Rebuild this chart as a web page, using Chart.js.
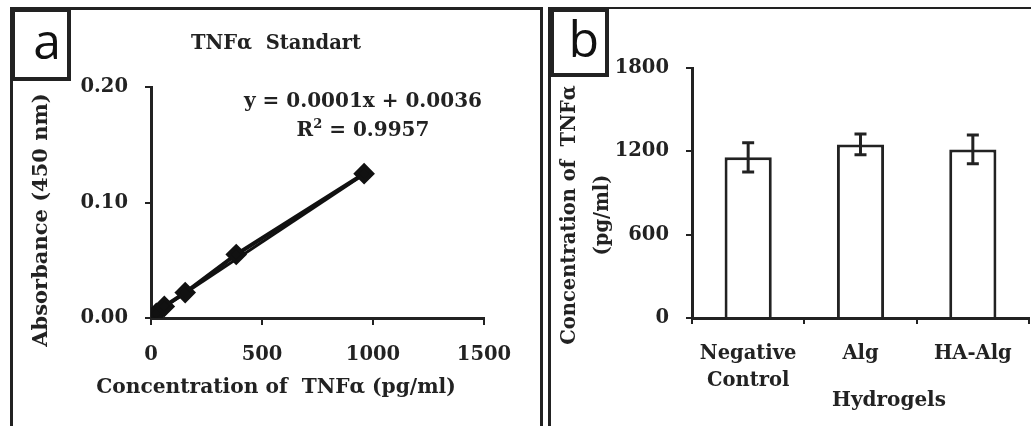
<!DOCTYPE html>
<html>
<head>
<meta charset="utf-8">
<script src="https://cdn.jsdelivr.net/npm/chart.js@4/dist/chart.umd.min.js"></script>
<style>
body { margin: 0; background: #fff; width: 1031px; height: 426px; overflow: hidden; position: relative; }
canvas { position: absolute; top: 0; }
.lbl { position: absolute; font-family: "DejaVu Serif", serif; font-weight: bold; font-size: 20px; color: #222; white-space: nowrap; transform: translate(-50%, -50%); }
.rot { transform: translate(-50%, -50%) rotate(-90deg); }
.frame { position: absolute; border: 3px solid #222; border-bottom: none; }
.tag { position: absolute; border: 4px solid #222; background: #fff; font-family: "Open Sans", sans-serif; font-size: 50px; color: #111; box-sizing: border-box; }
</style>
</head>
<body>
<div class="frame" style="left:10px;top:7px;width:527px;height:440px"></div>
<div class="frame" style="left:548px;top:7px;width:500px;height:440px;border-top-width:2px"></div>
<canvas id="stdChart" width="545" height="426" style="left:0"></canvas>
<canvas id="gelChart" width="482" height="426" style="left:549px"></canvas>
<div class="tag" style="left:11px;top:8px;width:60px;height:73px"><span style="position:absolute;right:6px;top:-6px">a</span></div>
<div class="tag" style="left:550px;top:8px;width:59px;height:69px"><span style="position:absolute;right:6px;top:-8px">b</span></div>

<div class="lbl" style="left:276px;top:42px;font-size:19.5px">TNFα&nbsp; Standart</div>
<div class="lbl" style="left:363px;top:100px">y = 0.0001x + 0.0036</div>
<div class="lbl" style="left:363px;top:128px">R<sup style="font-size:13px;vertical-align:8px">2</sup> = 0.9957</div>
<div class="lbl rot" style="left:39px;top:220px;font-size:21px">Absorbance (450 nm)</div>
<div class="lbl" style="left:276px;top:386px;font-size:20.2px">Concentration of&nbsp; TNFα (pg/ml)</div>

<div class="lbl rot" style="left:585px;top:215px;text-align:center;line-height:33px;font-size:19.5px">Concentration of&nbsp; TNFα<br>(pg/ml)</div>
<div class="lbl" style="left:889px;top:399px">Hydrogels</div>

<script>
// panel a: TNFα standard curve
const stdConc = [0, 24, 60, 154, 384, 960];
const stdAbs = [0.000, 0.004, 0.010, 0.022, 0.055, 0.125];
const trendConc = [0, 960];
const trendAbs = [0.002, 0.1245];
const stdTicksX = [0, 500, 1000, 1500];
const stdTicksY = [0, 0.1, 0.2];

// panel b: hydrogels
const gelNames = [["Negative", "Control"], "Alg", "HA-Alg"];
const gelMeans = [1157, 1250, 1214];
const gelErr = [105, 75, 104];
const gelTicksY = [0, 600, 1200, 1800];

const ink = '#222';
const tickFont = { family: 'DejaVu Serif', weight: 'bold', size: 19.5, lineHeight: 1.4 };

Chart.defaults.font.family = 'DejaVu Serif';
Chart.defaults.color = ink;

function axisGrid(len) {
  return { drawOnChartArea: false, drawTicks: true, tickLength: len, color: ink, lineWidth: 2 };
}

new Chart(document.getElementById('stdChart').getContext('2d'), {
  type: 'scatter',
  data: {
    datasets: [{
      data: stdConc.map((x, i) => ({ x: x, y: stdAbs[i] })),
      showLine: true,
      borderColor: '#111',
      backgroundColor: '#111',
      borderWidth: 4,
      pointStyle: 'rectRot',
      pointRadius: 8
    }, {
      data: trendConc.map((x, i) => ({ x: x, y: trendAbs[i] })),
      showLine: true,
      borderColor: '#111',
      borderWidth: 3,
      pointRadius: 0
    }]
  },
  options: {
    responsive: false,
    animation: false,
    layout: { padding: { top: 87, right: 61, left: 0, bottom: 0 } },
    plugins: { legend: { display: false }, tooltip: { enabled: false } },
    scales: {
      x: {
        type: 'linear', min: 0, max: 1500,
        afterBuildTicks: s => { s.ticks = stdTicksX.map(v => ({ value: v })); },
        afterFit: s => { s.height = 108; },
        grid: axisGrid(7),
        border: { color: ink, width: 3 },
        ticks: { font: tickFont, color: ink, padding: 16, maxRotation: 0, callback: v => String(v) }
      },
      y: {
        min: 0, max: 0.2,
        afterBuildTicks: s => { s.ticks = stdTicksY.map(v => ({ value: v })); },
        afterFit: s => { s.width = 151; },
        grid: axisGrid(6),
        border: { color: ink, width: 3 },
        ticks: { font: tickFont, color: ink, padding: 17, callback: v => v.toFixed(2) }
      }
    }
  }
});

const errorBars = {
  id: 'errorBars',
  afterDatasetsDraw(chart) {
    const ctx = chart.ctx;
    const y = chart.scales.y;
    const meta = chart.getDatasetMeta(0);
    ctx.save();
    ctx.strokeStyle = ink;
    ctx.lineWidth = 3;
    meta.data.forEach((bar, i) => {
      const top = y.getPixelForValue(gelMeans[i] + gelErr[i]);
      const bot = y.getPixelForValue(gelMeans[i] - gelErr[i]);
      ctx.beginPath();
      ctx.moveTo(bar.x, top); ctx.lineTo(bar.x, bot);
      ctx.moveTo(bar.x - 6, top); ctx.lineTo(bar.x + 6, top);
      ctx.moveTo(bar.x - 6, bot); ctx.lineTo(bar.x + 6, bot);
      ctx.stroke();
    });
    ctx.restore();
  }
};

new Chart(document.getElementById('gelChart').getContext('2d'), {
  type: 'bar',
  data: {
    labels: gelNames,
    datasets: [{
      data: gelMeans,
      backgroundColor: '#fff',
      borderColor: ink,
      borderWidth: 3,
      categoryPercentage: 1,
      barPercentage: 0.42
    }]
  },
  plugins: [errorBars],
  options: {
    responsive: false,
    animation: false,
    layout: { padding: { top: 68, right: 2, left: 0, bottom: 0 } },
    plugins: { legend: { display: false }, tooltip: { enabled: false } },
    scales: {
      x: {
        afterFit: s => { s.height = 108; },
        grid: Object.assign(axisGrid(6), { offset: true }),
        border: { color: ink, width: 3 },
        ticks: { font: tickFont, color: ink, padding: 16, maxRotation: 0 }
      },
      y: {
        min: 0, max: 1800,
        afterBuildTicks: s => { s.ticks = gelTicksY.map(v => ({ value: v })); },
        afterFit: s => { s.width = 143; },
        grid: axisGrid(6),
        border: { color: ink, width: 3 },
        ticks: { font: tickFont, color: ink, padding: 17, callback: v => String(v) }
      }
    }
  }
});
</script>
</body>
</html>
